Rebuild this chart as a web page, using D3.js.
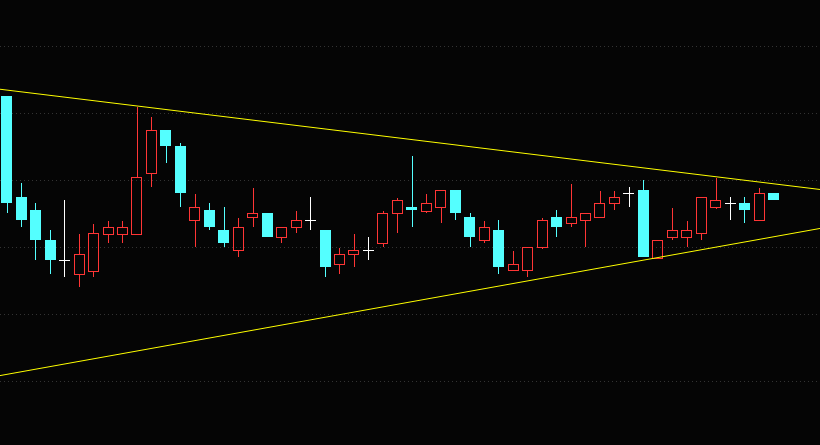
<!DOCTYPE html>
<html><head><meta charset="utf-8">
<script src="https://cdn.jsdelivr.net/npm/d3@7"></script>
<style>html,body{margin:0;padding:0;background:#050505;overflow:hidden}</style>
</head><body>
<svg id="c" width="820" height="445"></svg>
<script>
// candle data: open, high, low, close
const opens  = [12.627,11.873,11.776,11.552,11.401,11.296,11.323,11.599,11.599,11.599,12.050,12.373,12.254,11.699,11.776,11.627,11.475,11.722,11.754,11.572,11.647,11.699,11.627,11.371,11.446,11.478,11.528,11.752,11.799,11.771,11.796,11.925,11.724,11.550,11.627,11.326,11.326,11.498,11.724,11.677,11.699,11.722,11.826,11.901,11.925,11.420,11.572,11.572,11.602,11.796,11.826,11.828,11.699,11.903];
const highs  = [12.627,11.978,11.828,11.627,11.851,11.597,11.672,11.694,11.694,12.547,12.470,12.373,12.276,11.896,11.828,11.799,11.716,11.940,11.754,11.647,11.769,11.873,11.627,11.493,11.597,11.575,11.769,11.866,12.179,11.896,11.923,11.925,11.754,11.694,11.701,11.470,11.498,11.714,11.776,11.970,11.752,11.918,11.918,11.948,12.000,11.550,11.789,11.694,11.871,12.017,11.873,11.873,11.940,11.903];
const lows   = [11.756,11.652,11.403,11.299,11.278,11.204,11.278,11.532,11.532,11.599,11.950,12.129,11.801,11.502,11.627,11.502,11.428,11.652,11.577,11.532,11.607,11.629,11.278,11.301,11.353,11.403,11.502,11.607,11.652,11.756,11.681,11.704,11.502,11.532,11.301,11.326,11.278,11.483,11.577,11.652,11.502,11.722,11.778,11.801,11.428,11.420,11.555,11.502,11.552,11.781,11.704,11.681,11.699,11.853];
const closes = [11.831,11.704,11.555,11.403,11.401,11.448,11.602,11.647,11.647,12.020,12.371,12.256,11.905,11.796,11.652,11.532,11.647,11.752,11.577,11.647,11.699,11.699,11.353,11.446,11.475,11.478,11.752,11.849,11.778,11.826,11.923,11.756,11.577,11.647,11.353,11.371,11.498,11.699,11.652,11.722,11.752,11.826,11.871,11.901,11.428,11.550,11.625,11.625,11.871,11.849,11.826,11.778,11.901,11.853];
const gridLevels = [10.5, 11.0, 11.5, 12.0, 12.5, 13.0];
// trend lines: [index, price]
const upperTrend = [[-0.451, 12.677], [56.22, 11.929]];
const lowerTrend = [[-0.451, 10.540], [56.22, 11.638]];

const W = 820, H = 445;
const svg = d3.select("#c");
svg.append("rect").attr("width", W).attr("height", H).attr("fill", "#050505");

const x = d3.scaleLinear().domain([0, 53]).range([6.53, 773.4]);
const y = d3.scaleLinear().domain([10.022, 13.343]).range([445, 0]);

// grid
svg.append("g").selectAll("line").data(gridLevels).join("line")
  .attr("x1", 0).attr("x2", W)
  .attr("y1", d => Math.round(y(d)) + 0.5).attr("y2", d => Math.round(y(d)) + 0.5)
  .attr("stroke", "#333333").attr("stroke-width", 1).attr("stroke-dasharray", "1,3");

const data = opens.map((o, i) => ({ i, o, h: highs[i], l: lows[i], c: closes[i] }));
const CYAN = "#54FFFF", RED = "#FF3535", WHITE = "#FFFFFF";
const bw = 10.6;

const g = svg.append("g").attr("shape-rendering", "crispEdges");
data.forEach(d => {
  const cx = Math.round(x(d.i)) + 0.5;
  const left = Math.round(x(d.i) - bw / 2);
  const top = Math.min(y(d.o), y(d.c)), bot = Math.max(y(d.o), y(d.c));
  const col = d.c > d.o ? RED : (d.c < d.o ? CYAN : WHITE);
  if (d.c === d.o) {
    g.append("line").attr("x1", cx).attr("x2", cx).attr("y1", y(d.h)).attr("y2", y(d.l)).attr("stroke", col);
    g.append("line").attr("x1", left).attr("x2", left + Math.round(bw)).attr("y1", Math.round(top) + 0.5).attr("y2", Math.round(top) + 0.5).attr("stroke", col);
    return;
  }
  if (y(d.h) < top) g.append("line").attr("x1", cx).attr("x2", cx).attr("y1", y(d.h)).attr("y2", top).attr("stroke", col);
  if (y(d.l) > bot) g.append("line").attr("x1", cx).attr("x2", cx).attr("y1", bot).attr("y2", y(d.l)).attr("stroke", col);
  if (d.c > d.o) {
    g.append("rect").attr("x", left + 0.5).attr("y", Math.round(top) + 0.5)
      .attr("width", Math.round(bw) - 1).attr("height", Math.max(1, Math.round(bot) - Math.round(top)))
      .attr("fill", "none").attr("stroke", col).attr("stroke-width", 1);
  } else {
    g.append("rect").attr("x", left).attr("y", Math.round(top))
      .attr("width", Math.round(bw)).attr("height", Math.max(1, Math.round(bot) - Math.round(top)))
      .attr("fill", col);
  }
});

// trend lines
const line = d3.line().x(p => x(p[0])).y(p => y(p[1]));
[upperTrend, lowerTrend].forEach(t => {
  svg.append("path").attr("d", line(t)).attr("fill", "none")
    .attr("stroke", "#FFFF00").attr("stroke-width", 1);
});
</script>
</body></html>
